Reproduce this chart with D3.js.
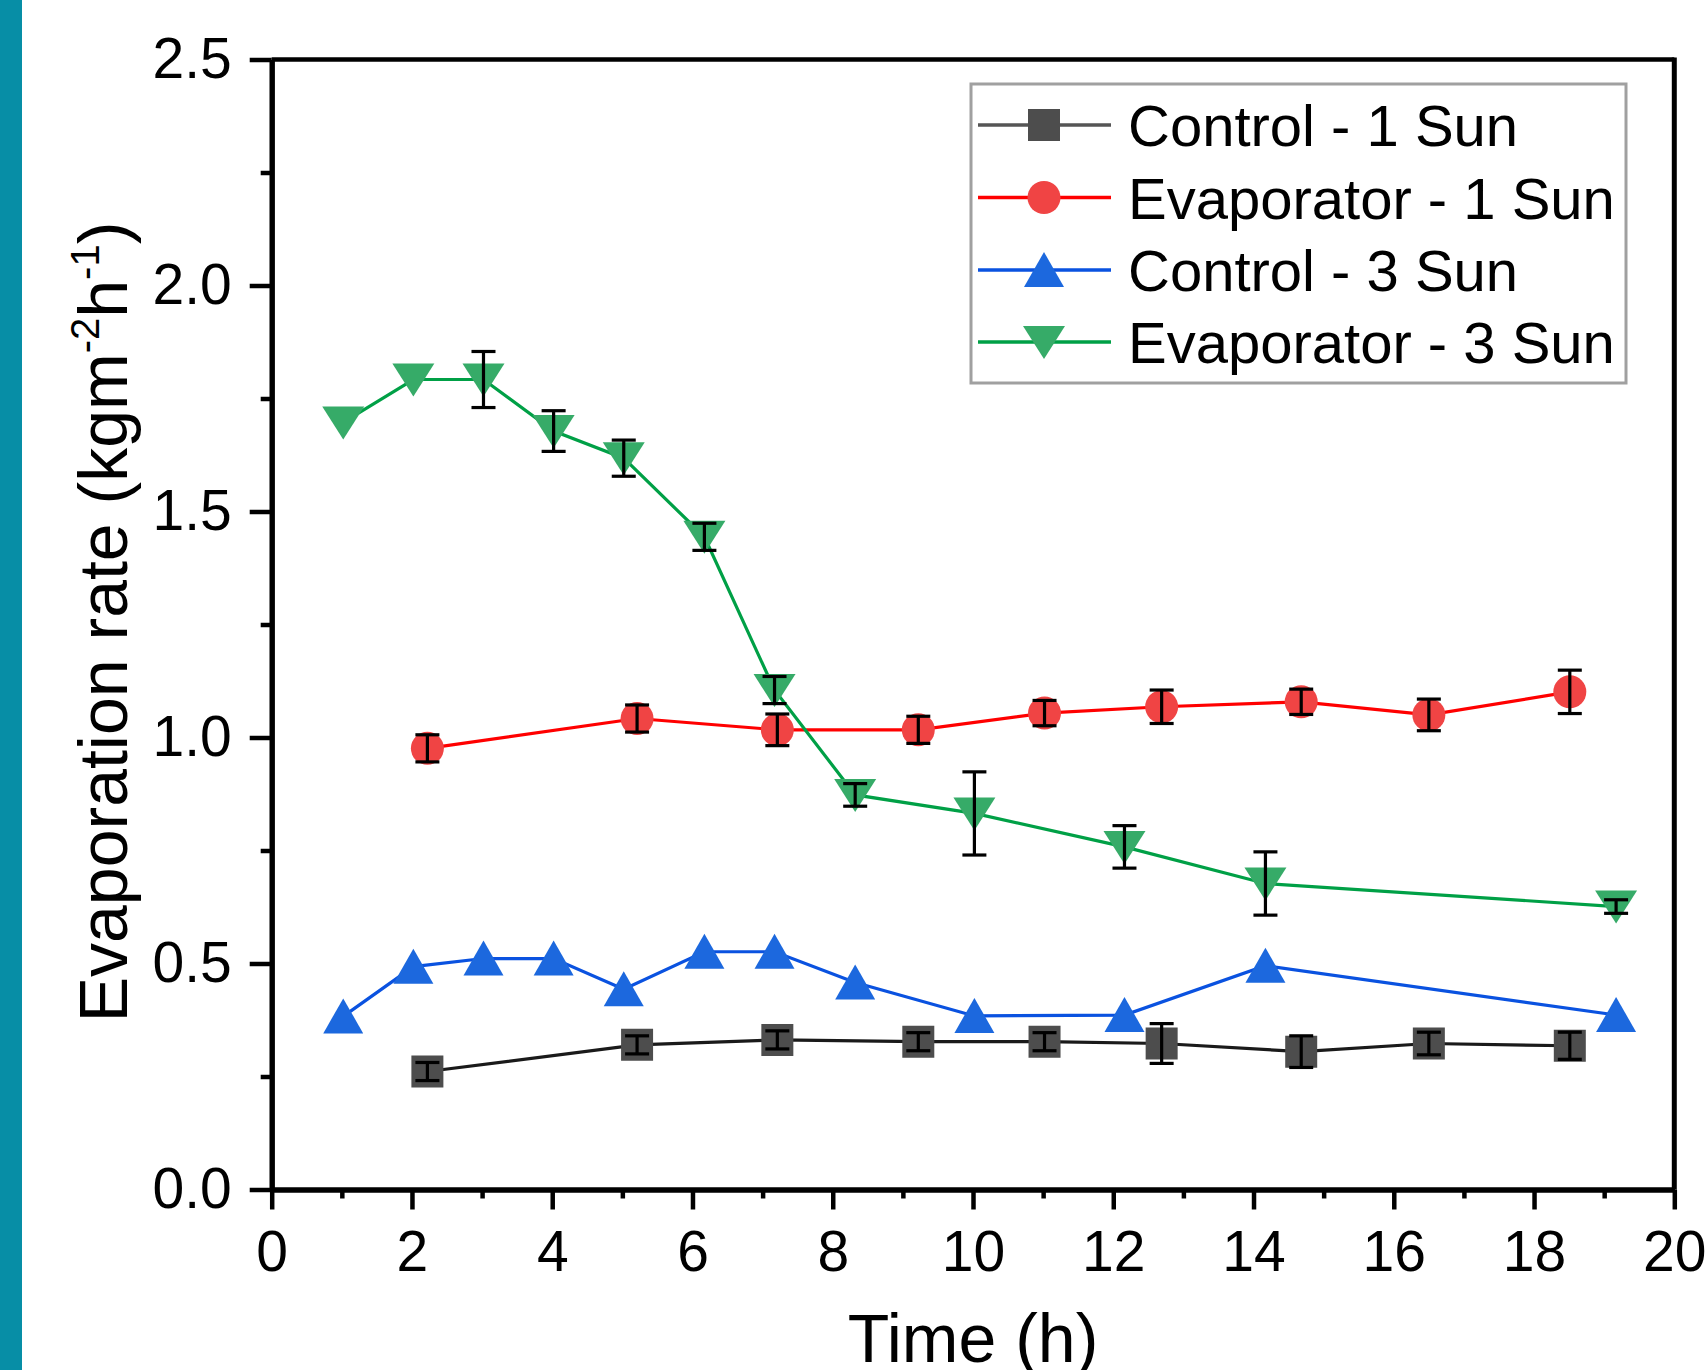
<!DOCTYPE html>
<html>
<head>
<meta charset="utf-8">
<script src="https://cdn.jsdelivr.net/npm/d3@7"></script>
<style>
  html, body { margin: 0; padding: 0; background: #fff; }
  svg { display: block; }
  text { font-family: "Liberation Sans", Arial, sans-serif; fill: #000; }
</style>
</head>
<body>
<div id="chart"></div>
<script>
// ---------------- data ----------------
const seriesNames = ["Control - 1 Sun", "Evaporator - 1 Sun", "Control - 3 Sun", "Evaporator - 3 Sun"];

const timeOneSun = [2.22, 5.21, 7.21, 9.22, 11.02, 12.69, 14.68, 16.50, 18.51];
const control1Sun = [0.261, 0.320, 0.331, 0.327, 0.327, 0.323, 0.305, 0.323, 0.318];
const control1SunErr = [0.02, 0.02, 0.02, 0.02, 0.02, 0.044, 0.035, 0.025, 0.03];
const evaporator1Sun = [0.976, 1.042, 1.017, 1.017, 1.054, 1.068, 1.079, 1.050, 1.101];
const evaporator1SunErr = [0.03, 0.03, 0.035, 0.03, 0.028, 0.037, 0.028, 0.035, 0.048];

const timeThreeSun = [1.02, 2.02, 3.02, 4.02, 5.02, 6.17, 7.17, 8.32, 10.02, 12.16, 14.17, 19.17];
const control3Sun = [0.383, 0.493, 0.511, 0.511, 0.443, 0.526, 0.526, 0.458, 0.384, 0.386, 0.495, 0.386];
const evaporator3Sun = [1.697, 1.792, 1.792, 1.678, 1.618, 1.444, 1.105, 0.873, 0.832, 0.758, 0.677, 0.626];
const evaporator3SunErr = [0, 0, 0.062, 0.045, 0.04, 0.03, 0.03, 0.025, 0.092, 0.047, 0.07, 0.015];

const xTicks = [0, 2, 4, 6, 8, 10, 12, 14, 16, 18, 20];
const xMinorTicks = [1, 3, 5, 7, 9, 11, 13, 15, 17, 19];
const yTicks = [0.0, 0.5, 1.0, 1.5, 2.0, 2.5];
const yMinorTicks = [0.25, 0.75, 1.25, 1.75, 2.25];

// ---------------- layout ----------------
const W = 1705, H = 1370;
const L = 271.7, R = 1674.3, T = 59.5, B = 1189.5;

const svg = d3.select("#chart").append("svg").attr("width", W).attr("height", H);
svg.append("rect").attr("width", W).attr("height", H).attr("fill", "#fff");
svg.append("rect").attr("x", 0).attr("y", 0).attr("width", 22).attr("height", H).attr("fill", "#078ea6");

const x = d3.scaleLinear().domain([0, 20]).range([L, R]);
const y = d3.scaleLinear().domain([0, 2.5]).range([B, T]);

const styles = [
  { line: "#1a1a1a", fill: "#4d4d4d", shape: "square" },
  { line: "#ff0000", fill: "#f04444", shape: "circle" },
  { line: "#0a52e0", fill: "#1c68de", shape: "up" },
  { line: "#00a046", fill: "#36ab68", shape: "down" }
];

function markerPath(shape) {
  if (shape === "square") return "M-16,-16H16V16H-16Z";
  if (shape === "circle") return d3.symbol(d3.symbolCircle, Math.PI * 16.5 * 16.5)();
  if (shape === "up") return "M0,-18L20,17L-20,17Z";
  return "M0,17L21,-16L-21,-16Z";
}

const series = [
  { t: timeOneSun, v: control1Sun, e: control1SunErr, s: styles[0] },
  { t: timeOneSun, v: evaporator1Sun, e: evaporator1SunErr, s: styles[1] },
  { t: timeThreeSun, v: control3Sun, e: null, s: styles[2] },
  { t: timeThreeSun, v: evaporator3Sun, e: evaporator3SunErr, s: styles[3] }
];

const line = d3.line().x(d => x(d[0])).y(d => y(d[1]));

const plot = svg.append("g");
series.forEach(sr => {
  const pts = sr.t.map((t, i) => [t, sr.v[i], sr.e ? sr.e[i] : 0]);
  const g = plot.append("g");
  g.append("path").datum(pts).attr("d", line)
    .attr("fill", "none").attr("stroke", sr.s.line).attr("stroke-width", 3.2);
  g.selectAll("path.m").data(pts).enter().append("path").attr("class", "m")
    .attr("d", markerPath(sr.s.shape))
    .attr("transform", d => `translate(${x(d[0])},${y(d[1])})`)
    .attr("fill", sr.s.fill);
  const eb = g.selectAll("g.eb").data(pts.filter(d => d[2] > 0)).enter().append("g").attr("class", "eb")
    .attr("stroke", "#000").attr("stroke-width", 3.2);
  eb.append("line").attr("x1", d => x(d[0])).attr("x2", d => x(d[0]))
    .attr("y1", d => y(d[1] + d[2])).attr("y2", d => y(d[1] - d[2]));
  eb.append("line").attr("x1", d => x(d[0]) - 12).attr("x2", d => x(d[0]) + 12)
    .attr("y1", d => y(d[1] + d[2])).attr("y2", d => y(d[1] + d[2]));
  eb.append("line").attr("x1", d => x(d[0]) - 12).attr("x2", d => x(d[0]) + 12)
    .attr("y1", d => y(d[1] - d[2])).attr("y2", d => y(d[1] - d[2]));
});

// ---------------- frame & axes ----------------
svg.append("line").attr("x1", L).attr("x2", R).attr("y1", T).attr("y2", T)
  .attr("stroke", "#000").attr("stroke-width", 4.5);
svg.append("line").attr("x1", R).attr("x2", R).attr("y1", T - 2).attr("y2", B)
  .attr("stroke", "#000").attr("stroke-width", 5);

const xAxis = svg.append("g").attr("transform", `translate(0,${B})`)
  .call(d3.axisBottom(x).tickValues(xTicks).tickFormat(d3.format("d")).tickSize(20).tickSizeOuter(0).tickPadding(0));
const xMinor = svg.append("g").attr("transform", `translate(0,${B})`)
  .call(d3.axisBottom(x).tickValues(xMinorTicks).tickFormat("").tickSize(9).tickSizeOuter(0));
const yAxis = svg.append("g").attr("transform", `translate(${L},0)`)
  .call(d3.axisLeft(y).tickValues(yTicks).tickFormat(d3.format(".1f")).tickSize(22).tickSizeOuter(0).tickPadding(0));
const yMinor = svg.append("g").attr("transform", `translate(${L},0)`)
  .call(d3.axisLeft(y).tickValues(yMinorTicks).tickFormat("").tickSize(11).tickSizeOuter(0));

[xAxis, xMinor, yAxis, yMinor].forEach(a => {
  a.select(".domain").attr("stroke", "#000").attr("stroke-width", 5);
  a.selectAll(".tick line").attr("stroke", "#000").attr("stroke-width", 4.5);
});
xAxis.selectAll(".tick text").attr("y", 81.5).attr("dy", null)
  .attr("font-size", 57).style("font-family", "'Liberation Sans', Arial, sans-serif").attr("fill", "#000");
yAxis.selectAll(".tick text").attr("x", -40).attr("dy", "0.31em")
  .attr("font-size", 57).style("font-family", "'Liberation Sans', Arial, sans-serif").attr("fill", "#000");

// axis titles
svg.append("text").attr("x", (L + R) / 2).attr("y", 1362).attr("text-anchor", "middle")
  .attr("font-size", 68).text("Time (h)");

const yt = svg.append("text").attr("transform", "translate(127,622) rotate(-90)")
  .attr("text-anchor", "middle").attr("font-size", 68);
yt.append("tspan").text("Evaporation rate (kgm");
yt.append("tspan").attr("font-size", 40).attr("dy", -28).text("-2");
yt.append("tspan").attr("dy", 28).text("h");
yt.append("tspan").attr("font-size", 40).attr("dy", -28).text("-1");
yt.append("tspan").attr("dy", 28).text(")");

// ---------------- legend ----------------
const lg = svg.append("g");
lg.append("rect").attr("x", 971).attr("y", 84).attr("width", 655).attr("height", 299)
  .attr("fill", "#fff").attr("stroke", "#a0a0a0").attr("stroke-width", 3);
const rowY = [125, 197.5, 270, 342];
seriesNames.forEach((name, i) => {
  const s = styles[i];
  lg.append("line").attr("x1", 978).attr("x2", 1111).attr("y1", rowY[i]).attr("y2", rowY[i])
    .attr("stroke", i === 0 ? "#555" : s.line).attr("stroke-width", 3.5);
  lg.append("path").attr("d", markerPath(s.shape))
    .attr("transform", `translate(1044,${rowY[i]})`).attr("fill", s.fill);
  lg.append("text").attr("x", 1128).attr("y", rowY[i] + 21).attr("font-size", 58).text(name);
});
</script>
</body>
</html>
